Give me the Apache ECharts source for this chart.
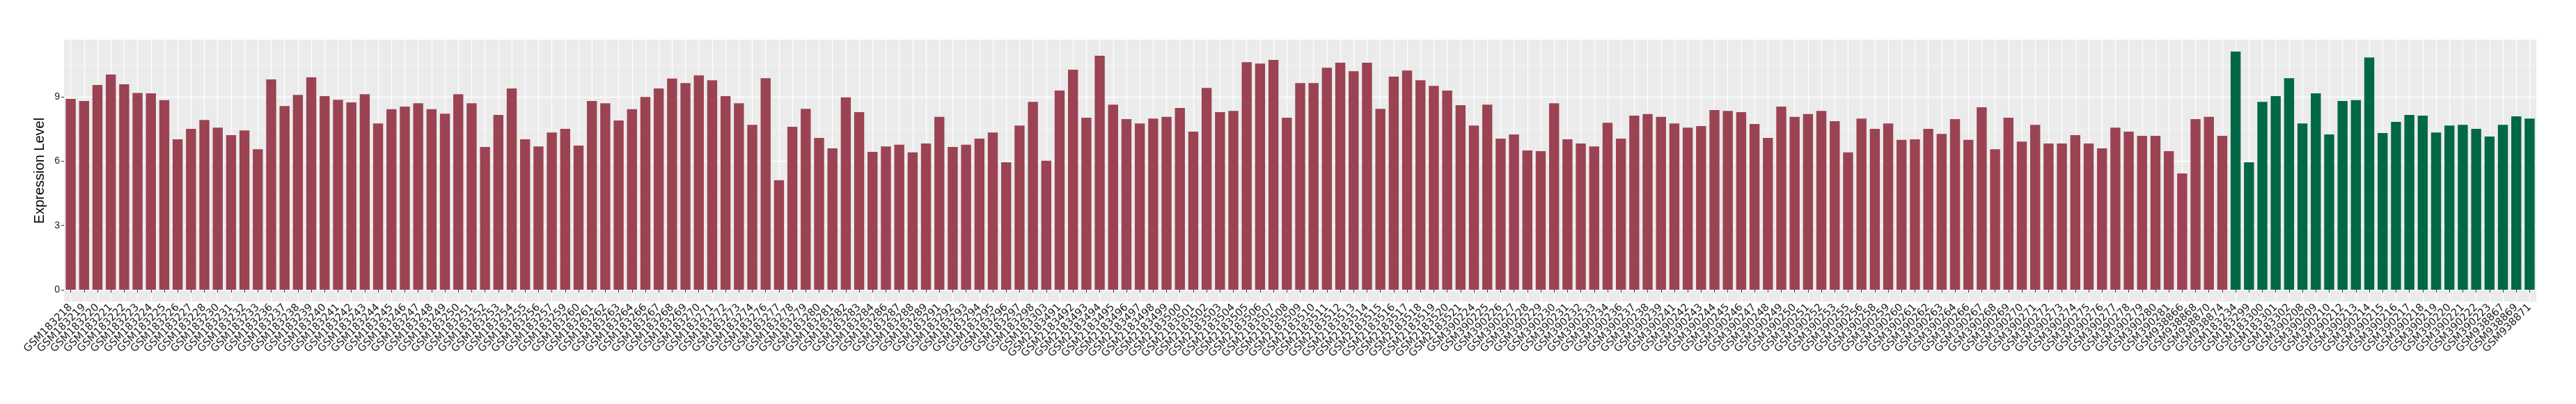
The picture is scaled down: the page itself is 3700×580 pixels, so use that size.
<!DOCTYPE html>
<html>
<head>
<meta charset="utf-8">
<script src="https://cdn.jsdelivr.net/npm/echarts@6/dist/echarts.min.js"></script>
<style>
  html, body { margin: 0; padding: 0; background: #ffffff; }
  #chart { width: 3700px; height: 580px; }
</style>
</head>
<body>
<div id="chart"></div>
<script>
// ---- data ----
const redSamples = [
  "GSM183218","GSM183219","GSM183220","GSM183221","GSM183222","GSM183223","GSM183224","GSM183225","GSM183226","GSM183227",
  "GSM183228","GSM183230","GSM183231","GSM183232","GSM183233","GSM183236","GSM183237","GSM183238","GSM183239","GSM183240",
  "GSM183241","GSM183242","GSM183243","GSM183244","GSM183245","GSM183246","GSM183247","GSM183248","GSM183249","GSM183250",
  "GSM183251","GSM183252","GSM183253","GSM183254","GSM183255","GSM183256","GSM183257","GSM183259","GSM183260","GSM183261",
  "GSM183262","GSM183263","GSM183264","GSM183266","GSM183267","GSM183268","GSM183269","GSM183270","GSM183271","GSM183272",
  "GSM183273","GSM183274","GSM183276","GSM183277","GSM183278","GSM183279","GSM183280","GSM183281","GSM183282","GSM183283",
  "GSM183284","GSM183286","GSM183287","GSM183288","GSM183289","GSM183291","GSM183292","GSM183293","GSM183294","GSM183295",
  "GSM183296","GSM183297","GSM183298","GSM183303",
  "GSM2183491","GSM2183492","GSM2183493","GSM2183494","GSM2183495","GSM2183496","GSM2183497","GSM2183498","GSM2183499","GSM2183500",
  "GSM2183501","GSM2183502","GSM2183503","GSM2183504","GSM2183505","GSM2183506","GSM2183507","GSM2183508","GSM2183509","GSM2183510",
  "GSM2183511","GSM2183512","GSM2183513","GSM2183514","GSM2183515","GSM2183516","GSM2183517","GSM2183518","GSM2183519","GSM2183520",
  "GSM2183521",
  "GSM390224","GSM390225","GSM390226","GSM390227","GSM390228","GSM390229","GSM390230","GSM390231","GSM390232","GSM390233",
  "GSM390234","GSM390236","GSM390237","GSM390238","GSM390239","GSM390241","GSM390242","GSM390243","GSM390244","GSM390245",
  "GSM390246","GSM390247","GSM390248","GSM390249","GSM390250","GSM390251","GSM390252","GSM390253","GSM390255","GSM390256",
  "GSM390258","GSM390259","GSM390260","GSM390261","GSM390262","GSM390263","GSM390264","GSM390266","GSM390267","GSM390268",
  "GSM390269","GSM390270","GSM390271","GSM390272","GSM390273","GSM390274","GSM390275","GSM390276","GSM390277","GSM390278",
  "GSM390279","GSM390280","GSM390281",
  "GSM938866","GSM938868","GSM938870","GSM938874"
];
const redValues = [
  8.91, 8.81, 9.56, 10.05, 9.59, 9.19, 9.17, 8.85, 7.02, 7.51,
  7.93, 7.57, 7.22, 7.44, 6.56, 9.82, 8.58, 9.10, 9.92, 9.04,
  8.87, 8.75, 9.13, 7.76, 8.43, 8.55, 8.71, 8.43, 8.22, 9.13,
  8.71, 6.67, 8.16, 9.40, 7.02, 6.69, 7.34, 7.51, 6.73, 8.81,
  8.71, 7.90, 8.43, 9.00, 9.40, 9.86, 9.65, 10.01, 9.78, 9.04,
  8.71, 7.70, 9.88, 5.11, 7.61, 8.45, 7.09, 6.60, 8.98, 8.29,
  6.44, 6.69, 6.77, 6.41, 6.83, 8.07, 6.67, 6.77, 7.06, 7.34,
  5.95, 7.67, 8.77, 6.02,
  9.30, 10.28, 8.03, 10.93, 8.64, 7.97, 7.76, 7.99, 8.07, 8.49,
  7.38, 9.42, 8.29, 8.35, 10.63, 10.56, 10.73, 8.03, 9.65, 9.65,
  10.37, 10.60, 10.20, 10.60, 8.45, 9.95, 10.24, 9.78, 9.52, 9.30,
  8.62,
  7.67, 8.64, 7.06, 7.25, 6.50, 6.47, 8.71, 7.02, 6.83, 6.69,
  7.80, 7.06, 8.13, 8.20, 8.07, 7.76, 7.57, 7.64, 8.39, 8.35,
  8.29, 7.74, 7.09, 8.55, 8.07, 8.20, 8.35, 7.87, 6.41, 7.99,
  7.51, 7.76, 7.00, 7.02, 7.51, 7.28, 7.97, 7.00, 8.52, 6.56,
  8.03, 6.92, 7.70, 6.83, 6.83, 7.22, 6.83, 6.60, 7.57, 7.38,
  7.19, 7.19, 6.47,
  5.43, 7.97, 8.07, 7.19
];
const greenSamples = [
  "GSM183234","GSM183299","GSM183300","GSM183301","GSM183302",
  "GSM390208","GSM390209","GSM390210","GSM390212","GSM390213","GSM390214","GSM390215","GSM390216","GSM390217","GSM390218",
  "GSM390219","GSM390220","GSM390221","GSM390222","GSM390223",
  "GSM938867","GSM938869","GSM938871"
];
const greenValues = [
  11.12, 5.95, 8.77, 9.04, 9.88,
  7.76, 9.17, 7.25, 8.81, 8.85, 10.85, 7.32, 7.84, 8.16, 8.13,
  7.34, 7.67, 7.70, 7.51, 7.15,
  7.70, 8.10, 7.99
];
const yTickValues = [0, 3, 6, 9];
const yMinorValues = [1.5, 4.5, 7.5, 10.5];
const axisTitle = "Expression Level";

// ---- build chart ----
const redColor = "#9B4352";
const greenColor = "#006847";
const categories = redSamples.concat(greenSamples);
const barData = redValues.map(v => ({ value: v, itemStyle: { color: redColor } }))
  .concat(greenValues.map(v => ({ value: v, itemStyle: { color: greenColor } })));
const dataMax = Math.max(...redValues, ...greenValues);
const yMin = -0.05 * dataMax;
const yMax = 1.05 * dataMax;

const chart = echarts.init(document.getElementById('chart'), null, { renderer: 'canvas' });
chart.setOption({
  animation: false,
  backgroundColor: '#ffffff',
  grid: {
    left: 92, right: 57, top: 57, bottom: 147,
    show: true, backgroundColor: '#EBEBEB', borderWidth: 0
  },
  xAxis: {
    type: 'category',
    data: categories,
    boundaryGap: true,
    axisLine: { show: false },
    axisTick: { show: true, alignWithLabel: true, length: 4, lineStyle: { color: '#333333', width: 1 } },
    splitLine: { show: true, alignWithLabel: true, lineStyle: { color: '#ffffff', width: 1.2 } },
    axisLabel: {
      interval: 0, rotate: 45, margin: 6,
      fontFamily: 'DejaVu Sans', fontSize: 15, color: '#1a1a1a'
    }
  },
  yAxis: [{
    type: 'value',
    min: yMin, max: yMax,
    name: axisTitle,
    nameLocation: 'middle',
    nameGap: 16,
    nameTextStyle: { fontFamily: 'Liberation Sans', fontSize: 20, color: '#000000' },
    axisLine: { show: false },
    axisTick: { show: true, length: 4, customValues: yTickValues, lineStyle: { color: '#333333' } },
    axisLabel: { customValues: yTickValues, margin: 6, fontFamily: 'Liberation Sans', fontSize: 14, color: '#1a1a1a' },
    splitLine: { show: true, lineStyle: { color: '#ffffff', width: 1.3 } }
  }, {
    type: 'value',
    position: 'left',
    min: yMin, max: yMax,
    axisLine: { show: false },
    axisTick: { show: false, customValues: yMinorValues },
    axisLabel: { show: false, customValues: yMinorValues },
    splitLine: { show: true, lineStyle: { color: '#F5F5F5', width: 0.8 } }
  }],
  series: [{
    type: 'bar',
    data: barData,
    barCategoryGap: '25%',
    yAxisIndex: 0
  }]
});
</script>
</body>
</html>
